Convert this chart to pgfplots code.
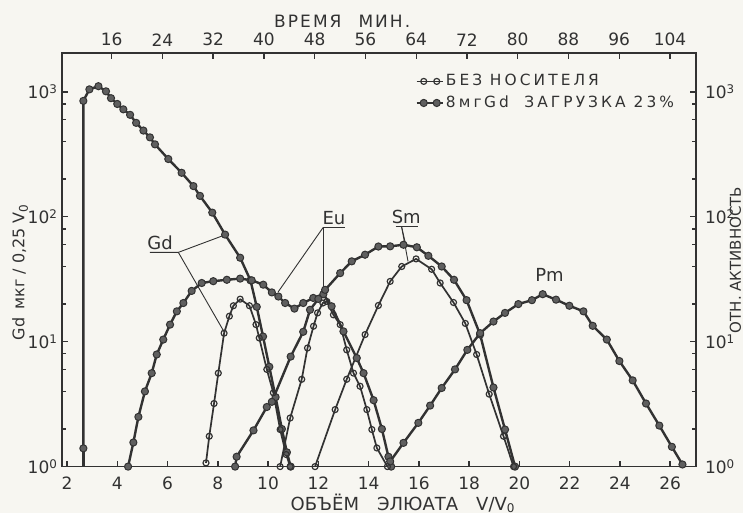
\documentclass[border=0pt]{standalone}
\usepackage{fontspec}
\setmainfont{DejaVu Sans}
\newfontfamily\wide{DejaVu Sans}[LetterSpace=12]
\newfontfamily\wider{DejaVu Sans}[LetterSpace=20]
\usepackage{pgfplots}
\pgfplotsset{compat=1.18}
\definecolor{ink}{RGB}{50,50,50}
\definecolor{paper}{RGB}{247,246,241}
\definecolor{dotfill}{RGB}{95,95,95}

\tikzset{
  opencirc/.style={ink, line width=0.85pt, line join=round, mark=o, mark size=1.5pt,
    mark options={fill=white, draw=ink, line width=0.6pt}},
  fullcirc/.style={ink, line width=1.2pt, line join=round, mark=*, mark size=1.8pt,
    mark options={fill=dotfill, draw=ink, line width=0.5pt}},
}
\pgfplotsset{
  baseax/.style={scale only axis, width=317pt, height=206.7pt, at={(0,0)}, anchor=south west,
    axis line style={ink, line width=0.9pt},
    tick style={ink, line width=0.7pt},
    major tick length=3pt, minor tick length=2pt,
    ytick={1,10,100,1000},
    yticklabels={10\textsuperscript{0},10\textsuperscript{1},10\textsuperscript{2},10\textsuperscript{3}},
    minor ytick={2,4,6,8,20,40,60,80,200,400,600,800},
    ticklabel style={text=ink, font=\fontsize{8.5}{10}\selectfont}},
}

\begin{document}
\begin{tikzpicture}
\useasboundingbox (-31pt,-23.2pt) rectangle (340.5pt,233.3pt);
\fill[paper] (-31pt,-23.2pt) rectangle (340.5pt,233.3pt);

% top (time) and right axis
\begin{axis}[ymode=log, ymin=1, ymax=2040, xmin=8.17, xmax=108.1, baseax,
  /pgf/number format/assume math mode=true,
  axis x line*=top, axis y line*=right, tick align=inside,
  yticklabel style={xshift=1pt},
  xtick={16,24,...,104}]
\end{axis}

\begin{axis}[ymode=log, ymin=1, ymax=2040, xmin=1.80, xmax=27.03, baseax,
  /pgf/number format/assume math mode=true, clip=false,
  tick align=inside, xtick pos=bottom, ytick pos=left,
  xtick={2,4,...,26},
  xticklabel style={yshift=-1.5pt},
  yticklabel style={xshift=1.5pt},
  legend style={at={(0.557,0.955)}, anchor=north west, draw=none, fill=none,
    inner sep=0pt, font=\wider\fontsize{7.7}{9}\selectfont, text=ink, row sep=1.5pt,
    nodes={inner sep=1pt}},
  legend cell align=left,
  legend image code/.code={\draw[#1, mark indices={2,3}] plot coordinates {(0pt,0pt) (3.5pt,0pt) (10pt,0pt) (13pt,0pt)};}]

\addlegendimage{opencirc}
\addlegendentry{БЕЗ\enspace НОСИТЕЛЯ}
\addlegendimage{fullcirc}
\addlegendentry{8мг\,Gd\quad ЗАГРУЗКА 23\%}

% with carrier: Gd
\addplot[ink, line width=1.2pt, forget plot] coordinates {(2.65,1.0)(2.65,1.4)};
\addplot[fullcirc, forget plot] coordinates {
(2.65,1.4)(2.65,847)(2.89,1047)(3.25,1110)(3.55,1010)(3.75,890)(4.0,800)(4.24,725)
(4.51,655)(4.75,565)(5.04,490)(5.30,432)(5.50,380)(6.03,290)(6.56,225)(7.03,176)
(7.29,147)(7.78,108)(8.29,72)(8.89,47)(9.3,31)(9.55,19)(9.8,11)(10.05,6.3)
(10.3,3.6)(10.55,2.0)(10.75,1.3)(10.9,1.0)};
% with carrier: Eu
\addplot[fullcirc, forget plot] coordinates {
(4.43,1.0)(4.64,1.56)(4.84,2.5)(5.10,4.0)(5.37,5.6)(5.57,7.9)(5.83,10.4)(6.10,13.7)
(6.37,17.5)(6.63,20.4)(6.96,25.5)(7.36,29.5)(7.82,30.5)(8.36,31.3)(8.89,32)(9.35,31)
(9.81,28.6)(10.15,24.8)(10.41,23)(10.68,20.4)(11.05,18.4)(11.4,20.4)(11.8,22.4)(12.2,24)
(12.53,19.2)(13.0,12.1)(13.53,7.4)(13.8,5.6)(14.2,3.4)(14.53,2.0)(14.79,1.2)(14.9,1.0)};
% with carrier: Sm
\addplot[fullcirc, forget plot] coordinates {
(8.69,1.0)(8.75,1.2)(9.42,1.95)(9.95,3.0)(10.15,3.3)(10.9,7.6)(11.4,12)(11.67,18)
(12.0,22)(12.27,26)(12.87,35.4)(13.33,44)(13.86,49.7)(14.39,57.8)(14.86,58)(15.39,59.7)
(15.92,57)(16.38,48.7)(16.91,40)(17.4,31.3)(17.9,21.5)(18.44,11.4)(18.97,4.3)(19.43,1.98)
(19.83,1.0)};
% with carrier: Pm
\addplot[fullcirc, forget plot] coordinates {
(14.86,1.1)(15.39,1.55)(15.98,2.24)(16.45,3.08)(16.91,4.26)(17.44,6.0)(17.93,8.6)
(18.44,11.7)(18.97,14.5)(19.43,17)(19.96,20)(20.5,21.5)(20.93,24)(21.46,21.7)(21.99,19.4)
(22.55,17.5)(22.92,13.4)(23.48,10.4)(23.98,7)(24.51,4.9)(25.04,3.2)(25.57,2.13)
(26.07,1.44)(26.49,1.04)};
% without carrier: Gd
\addplot[opencirc, forget plot] coordinates {
(7.53,1.07)(7.66,1.75)(7.85,3.2)(8.02,5.6)(8.25,11.7)(8.46,16)(8.62,19.4)(8.89,21.9)
(9.26,19.4)(9.52,13.7)(9.65,10.7)(9.95,6.0)(10.21,3.9)(10.48,1.98)(10.72,1.25)(10.88,1.0)};
% without carrier: Eu
\addplot[opencirc, forget plot] coordinates {
(10.48,1.0)(10.88,2.45)(11.34,5.0)(11.57,8.9)(11.81,13.3)(11.97,17)(12.18,20.4)(12.34,21)
(12.6,16.4)(12.87,13.7)(13.13,8.6)(13.4,5.6)(13.66,4.4)(13.93,2.86)(14.13,1.98)(14.33,1.41)
(14.75,1.0)};
% without carrier: Sm
\addplot[opencirc, forget plot] coordinates {
(11.87,1.0)(12.67,2.86)(13.13,5.0)(13.86,11.4)(14.39,19.5)(14.86,30.4)(15.32,40)(15.89,46)
(16.51,38)(16.85,29.5)(17.38,20.6)(17.85,14)(18.3,7.9)(18.8,3.8)(19.37,1.75)(19.77,1.0)};

% element labels with leader lines
\begin{scope}[ink, line width=0.45pt]
\draw (axis cs:5.30,51.9) -- (axis cs:6.43,51.9) -- (axis cs:8.28,71.5);
\draw (axis cs:6.43,51.9) -- (axis cs:8.25,12);
\draw (axis cs:12.19,82) -- (axis cs:13.05,82);
\draw (axis cs:12.19,82) -- (axis cs:10.40,25);
\draw (axis cs:12.19,82) -- (axis cs:12.19,26);
\draw (axis cs:15.08,84) -- (axis cs:15.97,84);
\draw (axis cs:15.31,84) -- (axis cs:15.48,59.4);
\draw (axis cs:15.31,84) -- (axis cs:15.57,43.9);
\end{scope}
\begin{scope}[every node/.style={text=ink, font=\fontsize{9}{10}\selectfont, inner sep=1.2pt}]
\node[anchor=south] at (axis cs:5.70,51.9) {Gd};
\node[anchor=south] at (axis cs:12.62,82) {Eu};
\node[anchor=south] at (axis cs:15.50,84) {Sm};
\node at (axis cs:21.2,34.2) {Pm};
\end{scope}

% axis titles
\begin{scope}[every node/.style={text=ink, inner sep=0pt}]
\node[font=\wide\fontsize{8.5}{10}\selectfont] at (axis description cs:0.442,1.078) {ВРЕМЯ\quad МИН.};
\node[font=\fontsize{9}{10}\selectfont] at (axis description cs:0.538,-0.089) {ОБЪЁМ\quad ЭЛЮАТА\quad V/V\textsubscript{0}};
\node[rotate=90, font=\fontsize{8}{10}\selectfont] at (axis description cs:-0.066,0.471) {Gd\enspace мкг / 0,25 V\textsubscript{0}};
\node[rotate=90, font=\fontsize{7.5}{9}\selectfont] at (axis description cs:1.062,0.5) {ОТН.\ АКТИВНОСТЬ};
\end{scope}
\end{axis}
\end{tikzpicture}
\end{document}
